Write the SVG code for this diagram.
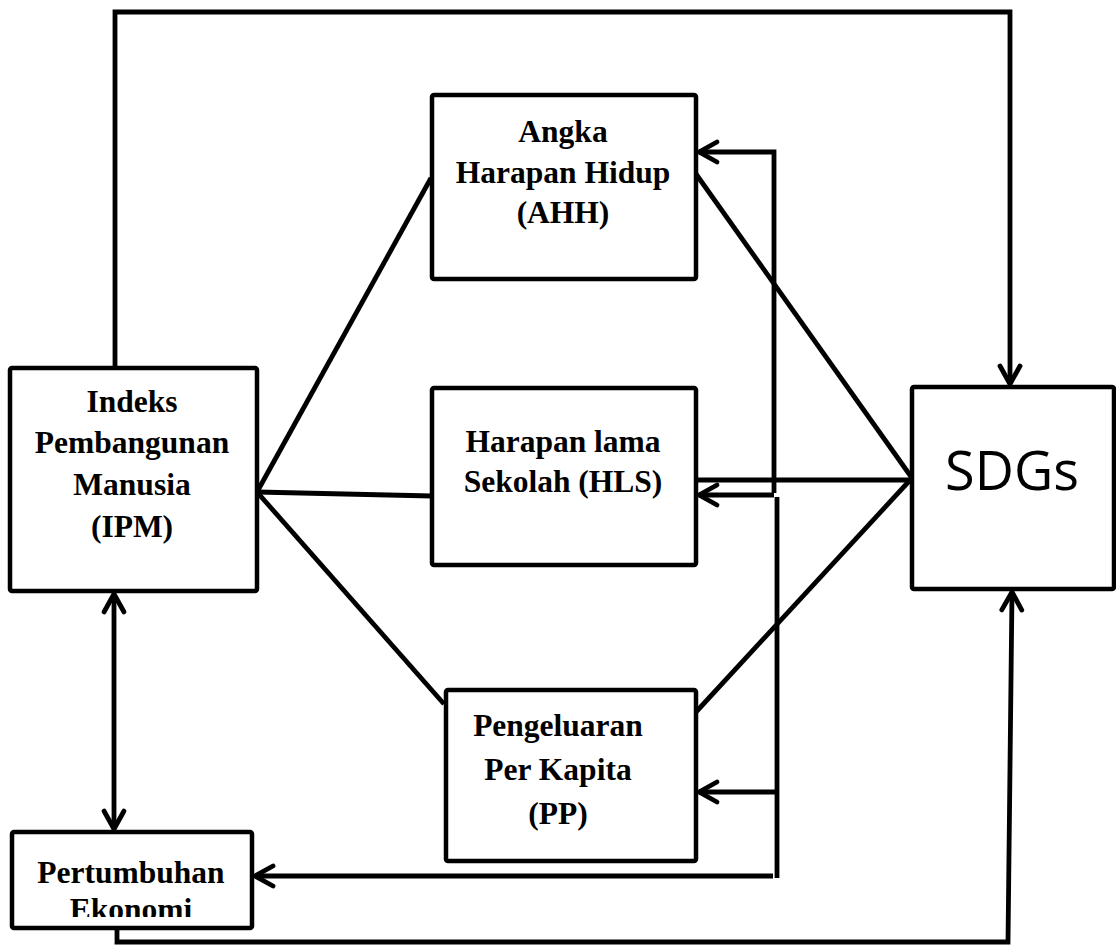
<svg xmlns="http://www.w3.org/2000/svg" width="1116" height="945" viewBox="0 0 1116 945">
<style>
.box{fill:#fff;stroke:#000;stroke-width:4.5;stroke-linejoin:round}
.t{font-family:"Liberation Serif","Times New Roman",serif;font-weight:bold;font-size:31.5px;text-anchor:middle;fill:#000}
.s{font-family:"Open Sans","Liberation Sans",sans-serif;font-size:54px;text-anchor:middle;fill:#000}
.c{fill:none;stroke:#000;stroke-width:4.8;stroke-linejoin:miter}
</style>
<defs>
<marker id="ah" markerUnits="userSpaceOnUse" viewBox="-24 -14 28 28" refX="0" refY="0" markerWidth="28" markerHeight="28" orient="auto-start-reverse">
<path d="M-18,-10 L0,0 L-18,10" fill="none" stroke="#000" stroke-width="4.8" stroke-linecap="round" stroke-linejoin="round"/>
</marker>
<clipPath id="pec"><rect x="12" y="832" width="240" height="85"/></clipPath>
</defs>
<rect width="1116" height="945" fill="#fff"/>
<g id="connectors">
<polyline class="c" points="115,368 115,12 1010,12 1010,384" marker-end="url(#ah)"/>
<polyline class="c" points="117,928 117,942 1008,942 1012,592" marker-end="url(#ah)"/>
<line class="c" x1="114" y1="594" x2="114" y2="829" marker-start="url(#ah)" marker-end="url(#ah)"/>
<line class="c" x1="257" y1="492" x2="431" y2="178"/>
<line class="c" x1="257" y1="492" x2="432" y2="496"/>
<line class="c" x1="257" y1="492" x2="444" y2="704"/>
<line class="c" x1="912" y1="478" x2="696" y2="174"/>
<line class="c" x1="912" y1="480" x2="696" y2="480"/>
<line class="c" x1="912" y1="478" x2="696" y2="712"/>
<polyline class="c" points="774,493 774,152 699,152" marker-end="url(#ah)"/>
<line class="c" x1="774" y1="495" x2="699" y2="495" marker-end="url(#ah)"/>
<line class="c" x1="777" y1="497" x2="777" y2="878"/>
<line class="c" x1="777" y1="792" x2="699" y2="792" marker-end="url(#ah)"/>
<line class="c" x1="773" y1="876" x2="255" y2="876" marker-end="url(#ah)"/>
</g>
<g id="ipm">
<rect class="box" x="10" y="368" width="247" height="223" rx="2"/>
<text class="t" x="132" y="412">Indeks</text>
<text class="t" x="132" y="453">Pembangunan</text>
<text class="t" x="132" y="495">Manusia</text>
<text class="t" x="132" y="537">(IPM)</text>
</g>
<g id="ahh">
<rect class="box" x="432" y="95" width="264" height="184" rx="2"/>
<text class="t" x="563" y="142">Angka</text>
<text class="t" x="563" y="183">Harapan Hidup</text>
<text class="t" x="563" y="223">(AHH)</text>
</g>
<g id="hls">
<rect class="box" x="432" y="388" width="264" height="177" rx="2"/>
<text class="t" x="563" y="452">Harapan lama</text>
<text class="t" x="563" y="492">Sekolah (HLS)</text>
</g>
<g id="pp">
<rect class="box" x="446" y="690" width="250" height="171" rx="2"/>
<text class="t" x="558" y="736">Pengeluaran</text>
<text class="t" x="558" y="780">Per Kapita</text>
<text class="t" x="558" y="824">(PP)</text>
</g>
<g id="sdgs">
<rect class="box" x="912" y="387" width="202" height="202" rx="2"/>
<text class="s" x="1012" y="490">SDGs</text>
</g>
<g id="pe">
<rect class="box" x="12" y="832" width="240" height="96" rx="2"/>
<text class="t" x="131" y="883">Pertumbuhan</text>
<text class="t" x="131" y="920" clip-path="url(#pec)">Ekonomi</text>
</g>
</svg>
